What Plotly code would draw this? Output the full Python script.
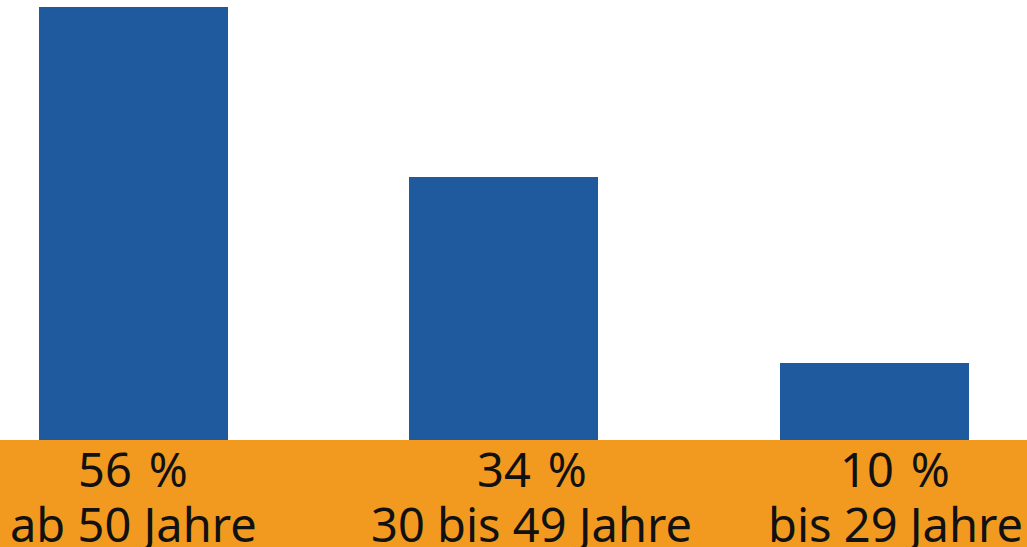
import plotly.graph_objects as go

categories = ["ab 50 Jahre", "30 bis 49 Jahre", "bis 29 Jahre"]
values = [56, 34, 10]
value_labels = ["56 %", "34 %", "10 %"]

BLUE = "#1e5a9d"
ORANGE = "#f29a1f"
PLOT_H = 440  # px height of plotting area
LABEL_SHIFT = [0, 28, 21]  # label offsets (px) as in the original layout

x = list(range(len(categories)))

fig = go.Figure()
fig.add_trace(go.Bar(
    x=x, y=values, width=0.51,
    marker=dict(color=BLUE, line=dict(width=0)),
    hoverinfo="skip",
))

def py(px):
    return (PLOT_H - px) / PLOT_H

for xi, v, c, s in zip(x, value_labels, categories, LABEL_SHIFT):
    fig.add_annotation(
        x=xi, xref="x", xshift=s, y=py(469), yref="paper", yanchor="middle",
        text=v.replace(" ", " \u200a"), showarrow=False,
        font=dict(family="Noto Sans", size=47, color="#111111"),
    )
    fig.add_annotation(
        x=xi, xref="x", xshift=s, y=py(524), yref="paper", yanchor="middle",
        text=c, showarrow=False,
        font=dict(family="Noto Sans", size=47, color="#111111"),
    )

fig.update_layout(
    width=1027, height=547,
    margin=dict(l=0, r=0, t=0, b=547 - PLOT_H),
    paper_bgcolor=ORANGE,
    plot_bgcolor="white",
    showlegend=False,
    bargap=0,
    xaxis=dict(range=[-0.36, 2.412], showticklabels=False, showgrid=False,
               zeroline=False, showline=False, fixedrange=True),
    yaxis=dict(range=[0, 56.9], visible=False, fixedrange=True),
)

fig.write_html("out.html", config={"displayModeBar": False},
               post_script="document.body.style.margin='0';")
